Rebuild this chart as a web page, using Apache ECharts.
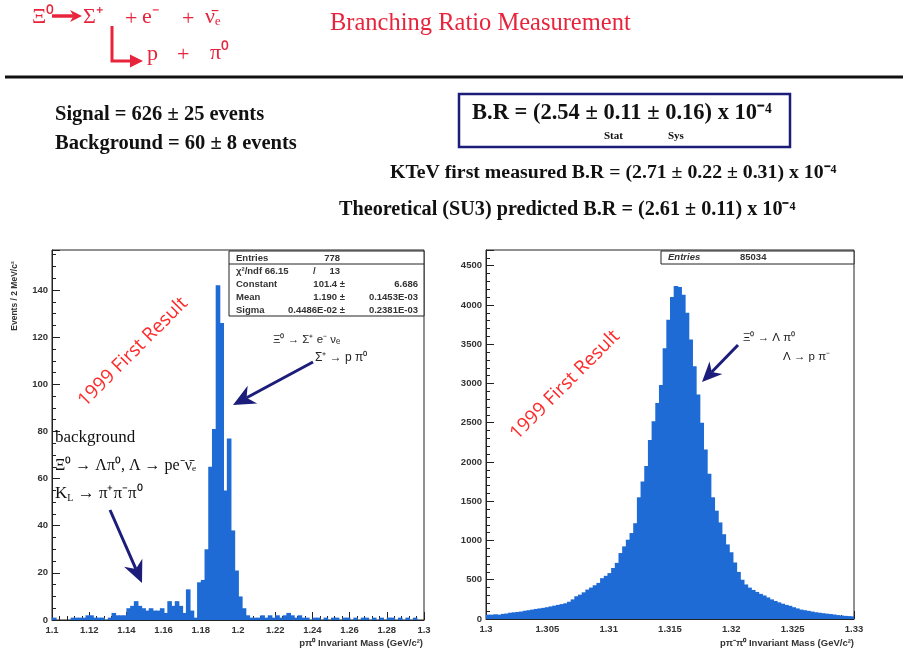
<!DOCTYPE html>
<html><head><meta charset="utf-8">
<script src="https://cdn.jsdelivr.net/npm/echarts@6/dist/echarts.min.js"></script>
<style>html,body{margin:0;padding:0;background:#fff}#c{width:903px;height:655px}</style>
</head><body><div id="c"></div>
<script>
// ---- data ----
const leftBinStart = 1.1;
const leftBinWidth = 0.002;
const leftCounts = [
  1,0,0,0,0,1,1,1,1,2,
  2,1,1,1,0,1,3,2,2,2,
  5,6,8,6,5,4,5,4,4,5,
  3,8,6,8,6,3,13,4,1,16,
  17,30,65,81,142,126,55,77,38,21,
  10,5,2,1,1,1,2,1,2,1,
  2,1,2,3,2,1,2,1,1,0,
  1,1,0,1,0,1,1,0,1,1,
  0,1,0,1,1,0,1,0,1,0,
  1,1,0,1,0,1,0,1,0,0
];
const rightBinStart = 1.3;
const rightBinWidth = 0.0003;
const rightCounts = [
  55,55,60,55,65,70,80,85,90,95,
  105,112,120,128,135,142,150,160,170,180,
  190,200,220,250,290,310,340,375,400,430,
  460,520,550,585,650,715,840,925,1010,1095,
  1220,1550,1750,1950,2280,2520,2750,2980,3450,3810,
  4100,4240,4230,4130,3900,3560,3220,2860,2500,2160,
  1850,1550,1380,1230,1080,950,850,720,600,500,
  440,400,370,345,320,300,275,250,230,212,
  195,180,168,150,135,120,112,104,95,86,
  80,74,68,63,57,50,44,40,37,34
];
const leftStats = [
  ['Entries', '', '778'],
  ['χ²/ndf 66.15', '/', '13'],
  ['Constant', '101.4 ±', '6.686'],
  ['Mean', '1.190 ±', '0.1453E-03'],
  ['Sigma', '0.4486E-02 ±', '0.2381E-03']
];
const rightStats = [['Entries', '85034']];

const BLUE = '#1f6bd6';
const RED = '#e8243c';
const NAVY = '#1c1c7a';
const SERIF = 'Liberation Serif, serif';
const SANS = 'Liberation Sans, Arial, sans-serif';

function histItem(width) {
  return function (params, api) {
    const x0 = api.value(0), y = api.value(1);
    const p0 = api.coord([x0, y]);
    const p1 = api.coord([x0 + width, 0]);
    return {
      type: 'rect',
      shape: { x: p0[0], y: p0[1], width: p1[0] - p0[0] + 0.9, height: p1[1] - p0[1] },
      style: { fill: BLUE }
    };
  };
}

function xAx(grid, min, max, interval, dec, split) {
  return {
    type: 'value', gridIndex: grid, min: min, max: max, interval: interval,
    axisLine: { show: true, lineStyle: { color: '#222', width: 1 } },
    axisTick: { show: true, inside: true, length: 8, lineStyle: { color: '#222' } },
    minorTick: { show: true, splitNumber: split, length: 4, lineStyle: { color: '#222' } },
    splitLine: { show: false },
    axisLabel: { fontSize: 9.5, fontWeight: 'bold', fontFamily: SANS, color: '#333', margin: 5,
      formatter: function (v) { return String(parseFloat(v.toFixed(dec))); } }
  };
}
function yAx(grid, max, interval, split) {
  return {
    type: 'value', gridIndex: grid, min: 0, max: max, interval: interval,
    axisLine: { show: true, lineStyle: { color: '#222', width: 1 } },
    axisTick: { show: true, inside: true, length: 8, lineStyle: { color: '#222' } },
    minorTick: { show: true, splitNumber: split, length: 4, lineStyle: { color: '#222' } },
    splitLine: { show: false },
    axisLabel: { fontSize: 9.5, fontWeight: 'bold', fontFamily: SANS, color: '#333', margin: 4, showMaxLabel: false,
      formatter: function (v) { return String(Math.round(v)); } }
  };
}

function arrow(x1, y1, x2, y2, head, half, color, lw) {
  const c = color || NAVY;
  const a = Math.atan2(y2 - y1, x2 - x1);
  const bx = x2 - head * Math.cos(a), by = y2 - head * Math.sin(a);
  const nx = -Math.sin(a), ny = Math.cos(a);
  const mx = x2 - head * 0.7 * Math.cos(a), my = y2 - head * 0.7 * Math.sin(a);
  return [
    { type: 'line', shape: { x1: x1, y1: y1, x2: mx, y2: my }, style: { stroke: c, lineWidth: lw || 3 } },
    { type: 'polygon', shape: { points: [[x2, y2], [bx + nx * half, by + ny * half], [mx, my], [bx - nx * half, by - ny * half]] },
      style: { fill: c } }
  ];
}

function t(x, y, text, opt) {
  return { type: 'text', x: x, y: y, style: Object.assign({ text: text, fill: '#111', fontFamily: SERIF, fontSize: 20, fontWeight: 'bold', verticalAlign: 'middle' }, opt || {}) };
}
function rt(x, y, text, size) {
  return t(x, y, text, { fill: RED, fontWeight: 'normal', fontSize: size || 22 });
}

const graphics = [];
// header formula
graphics.push(rt(32, 17, 'Ξ⁰'));
Array.prototype.push.apply(graphics, arrow(52, 16, 82, 16, 12, 6, RED, 3.5));
graphics.push(rt(83, 17, 'Σ⁺'));
graphics.push(rt(125, 19, '+'));
graphics.push(rt(142, 17, 'e⁻'));
graphics.push(rt(182, 19, '+'));
graphics.push(rt(205, 17, 'ν̄ₑ'));
graphics.push({ type: 'polyline', shape: { points: [[112, 26], [112, 61], [132, 61]] }, style: { stroke: RED, lineWidth: 3, fill: null } });
graphics.push({ type: 'polygon', shape: { points: [[143, 61], [130, 54.5], [130, 67.5]] }, style: { fill: RED } });
graphics.push(rt(147, 54, 'p'));
graphics.push(rt(177, 55, '+'));
graphics.push(rt(210, 53, 'π⁰'));
graphics.push({ type: 'text', x: 330, y: 24, style: { text: 'Branching Ratio Measurement', fill: RED, fontFamily: SERIF, fontSize: 24.5, verticalAlign: 'middle' } });
graphics.push({ type: 'line', shape: { x1: 5, y1: 77, x2: 903, y2: 77 }, style: { stroke: '#111', lineWidth: 3 } });

graphics.push(t(55, 115, 'Signal = 626 ± 25 events', { fontSize: 20.5 }));
graphics.push(t(55, 144, 'Background = 60 ± 8 events', { fontSize: 20.5 }));
graphics.push({ type: 'rect', shape: { x: 459, y: 94, width: 331, height: 53 }, style: { fill: null, stroke: NAVY, lineWidth: 2.5 } });
graphics.push(t(472, 113, 'B.R = (2.54 ± 0.11 ± 0.16) x 10⁻⁴', { fontSize: 22.5 }));
graphics.push(t(604, 136, 'Stat', { fontSize: 11 }));
graphics.push(t(668, 136, 'Sys', { fontSize: 11 }));
graphics.push(t(390, 173, 'KTeV first measured B.R = (2.71 ± 0.22 ± 0.31) x 10⁻⁴', { fontSize: 19.8 }));
graphics.push(t(339, 210, 'Theoretical (SU3) predicted B.R = (2.61 ± 0.11) x 10⁻⁴', { fontSize: 20.2 }));

// left stats box
graphics.push({ type: 'rect', shape: { x: 229, y: 251, width: 195, height: 65 }, style: { fill: '#fff', stroke: '#222', lineWidth: 1 } });
graphics.push({ type: 'line', shape: { x1: 229, y1: 264, x2: 424, y2: 264 }, style: { stroke: '#222', lineWidth: 1 } });
leftStats.forEach(function (r, i) {
  const y = 258 + i * 13;
  graphics.push(t(236, y, r[0], { fontFamily: SANS, fontSize: 9.5, fill: '#333' }));
  if (r[1]) graphics.push(t(r[1] === '/' ? 313 : 345, y, r[1], { fontFamily: SANS, fontSize: 9.5, fill: '#333', align: r[1] === '/' ? 'left' : 'right' }));
  graphics.push(t(i < 2 ? 340 : 418, y, r[2], { fontFamily: SANS, fontSize: 9.5, fill: '#333', align: 'right' }));
});
// right stats box
graphics.push({ type: 'rect', shape: { x: 661, y: 251, width: 193, height: 13 }, style: { fill: '#fff', stroke: '#222', lineWidth: 1 } });
graphics.push(t(668, 257.5, rightStats[0][0], { fontFamily: SANS, fontSize: 9.5, fill: '#333', fontStyle: 'italic' }));
graphics.push(t(740, 257.5, rightStats[0][1], { fontFamily: SANS, fontSize: 9.5, fill: '#333' }));

// axis titles
graphics.push({ type: 'text', x: 15, y: 296, rotation: Math.PI / 2, style: { text: 'Events / 2 MeV/c²', fill: '#333', fontFamily: SANS, fontSize: 8.5, fontWeight: 'bold', align: 'center', verticalAlign: 'middle' } });
graphics.push(t(423, 643, 'pπ⁰ Invariant Mass (GeV/c²)', { fontFamily: SANS, fontSize: 9.5, fill: '#333', align: 'right' }));
graphics.push(t(854, 643, 'pπ⁻π⁰ Invariant Mass (GeV/c²)', { fontFamily: SANS, fontSize: 9.5, fill: '#333', align: 'right' }));

// annotations
graphics.push(t(273, 340, 'Ξ⁰ → Σ⁺ e⁻ νₑ', { fontFamily: SANS, fontSize: 11.5, fontWeight: 'normal', fill: '#222' }));
graphics.push(t(315, 358, 'Σ⁺ → p π⁰', { fontFamily: SANS, fontSize: 12, fontWeight: 'normal', fill: '#222' }));
graphics.push(t(743, 338, 'Ξ⁰ → Λ π⁰', { fontFamily: SANS, fontSize: 11.5, fontWeight: 'normal', fill: '#222' }));
graphics.push(t(783, 357, 'Λ → p π⁻', { fontFamily: SANS, fontSize: 11.5, fontWeight: 'normal', fill: '#222' }));
graphics.push(t(55, 438, 'background', { fontWeight: 'normal', fontSize: 17 }));
graphics.push(t(55, 466, 'Ξ⁰ → Λπ⁰, Λ → pe⁻ν̄ₑ', { fontWeight: 'normal', fontSize: 16 }));
graphics.push({ type: 'text', x: 55, y: 494, style: { text: '{a|K}{s|L}{a| → π⁺π⁻π⁰}', fill: '#111', verticalAlign: 'middle',
  rich: { a: { fontFamily: SERIF, fontSize: 17, fill: '#111' }, s: { fontFamily: SERIF, fontSize: 10, fill: '#111', padding: [8, 0, 0, 0] } } } });

Array.prototype.push.apply(graphics, arrow(313, 362, 233, 405, 22, 10));
Array.prototype.push.apply(graphics, arrow(110, 510, 142, 583, 22, 10));
Array.prototype.push.apply(graphics, arrow(738, 345, 702, 382, 20, 9));

graphics.push({ type: 'text', x: 133, y: 352, rotation: Math.PI / 4, style: { text: '1999 First Result', fill: '#ff2a2a', fontFamily: 'Open Sans, sans-serif', fontSize: 19, align: 'center', verticalAlign: 'middle', backgroundColor: 'rgba(255,255,255,0.85)', padding: [4, 8] } });
graphics.push({ type: 'text', x: 565, y: 385, rotation: Math.PI / 4, style: { text: '1999 First Result', fill: '#ff2a2a', fontFamily: 'Open Sans, sans-serif', fontSize: 19, align: 'center', verticalAlign: 'middle', backgroundColor: 'rgba(255,255,255,0.85)', padding: [4, 8] } });

const chart = echarts.init(document.getElementById('c'), null, { renderer: 'canvas' });
chart.setOption({
  animation: false,
  backgroundColor: '#fff',
  grid: [
    { left: 52, top: 250, width: 372, height: 370, show: true, borderColor: '#222', borderWidth: 1 },
    { left: 486, top: 250, width: 368, height: 369, show: true, borderColor: '#222', borderWidth: 1 }
  ],
  xAxis: [xAx(0, 1.1, 1.3, 0.02, 2, 5), xAx(1, 1.3, 1.33, 0.005, 3, 5)],
  yAxis: [yAx(0, 157, 20, 4), yAx(1, 4700, 500, 5)],
  series: [
    { type: 'custom', xAxisIndex: 0, yAxisIndex: 0, renderItem: histItem(leftBinWidth), encode: { x: 0, y: 1 }, clip: true,
      data: leftCounts.map(function (v, i) { return [leftBinStart + i * leftBinWidth, v]; }), z: 2 },
    { type: 'custom', xAxisIndex: 1, yAxisIndex: 1, renderItem: histItem(rightBinWidth), encode: { x: 0, y: 1 }, clip: true,
      data: rightCounts.map(function (v, i) { return [rightBinStart + i * rightBinWidth, v]; }), z: 2 }
  ],
  graphic: { elements: graphics.map(function (g) { g.z = g.z || 10; return g; }) }
});
</script></body></html>
